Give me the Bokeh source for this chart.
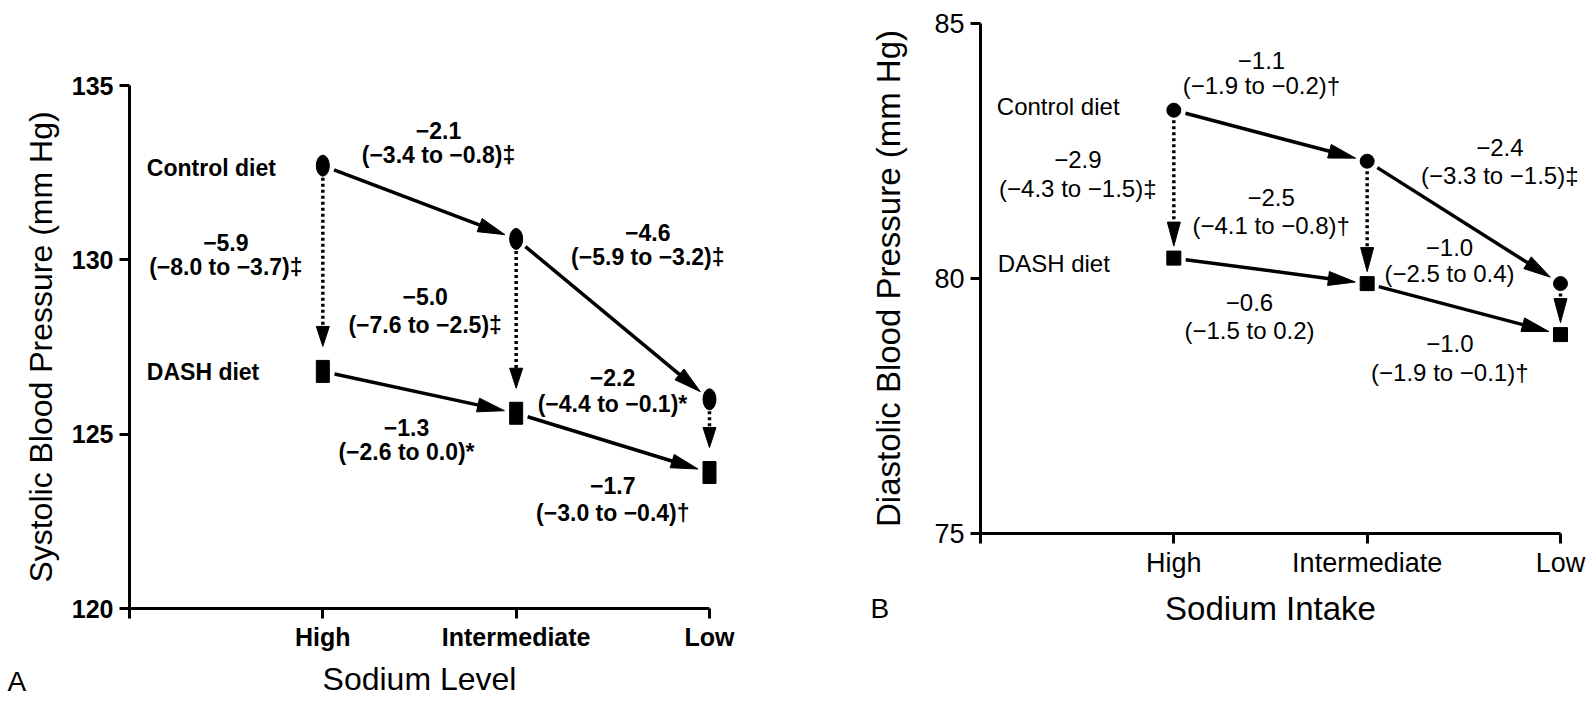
import math
from bokeh.plotting import figure
from bokeh.models import ColumnDataSource, LabelSet, Label, FixedTicker, Range1d
from bokeh.layouts import row
from bokeh.core.properties import value
from bokeh.embed import file_html
from bokeh.resources import INLINE

# ---------------- data ----------------
levels = ["High", "Intermediate", "Low"]
diets = ["Control diet", "DASH diet"]

sbp_control = [132.7, 130.6, 126.0]
sbp_dash = [126.8, 125.6, 123.9]
sbp_yticks = [120, 125, 130, 135]
sbp_ctrl_diff = ["−2.1", "−4.6"]
sbp_ctrl_ci = ["(−3.4 to −0.8)‡", "(−5.9 to −3.2)‡"]
sbp_dash_diff = ["−1.3", "−1.7"]
sbp_dash_ci = ["(−2.6 to 0.0)*", "(−3.0 to −0.4)†"]
sbp_diet_diff = ["−5.9", "−5.0", "−2.2"]
sbp_diet_ci = ["(−8.0 to −3.7)‡", "(−7.6 to −2.5)‡", "(−4.4 to −0.1)*"]

dbp_control = [83.3, 82.3, 79.9]
dbp_dash = [80.4, 79.9, 78.9]
dbp_yticks = [75, 80, 85]
dbp_ctrl_diff = ["−1.1", "−2.4"]
dbp_ctrl_ci = ["(−1.9 to −0.2)†", "(−3.3 to −1.5)‡"]
dbp_dash_diff = ["−0.6", "−1.0"]
dbp_dash_ci = ["(−1.5 to 0.2)", "(−1.9 to −0.1)†"]
dbp_diet_diff = ["−2.9", "−2.5", "−1.0"]
dbp_diet_ci = ["(−4.3 to −1.5)‡", "(−4.1 to −0.8)†", "(−2.5 to 0.4)"]

# ---------------- style / layout ----------------
FONT = "Liberation Sans"
XPX = 193.33  # pixels per category step
H = 702


def arrow_parts(x0, y0, x1, y1, sx, sy, g0, g1, hl, hw):
    X0, Y0, X1, Y1 = x0 * sx, y0 * sy, x1 * sx, y1 * sy
    L = math.hypot(X1 - X0, Y1 - Y0)
    ux, uy = (X1 - X0) / L, (Y1 - Y0) / L
    sX, sY = X0 + ux * g0, Y0 + uy * g0
    tX, tY = X1 - ux * g1, Y1 - uy * g1
    bX, bY = tX - ux * hl, tY - uy * hl
    eX, eY = bX + ux * 3, bY + uy * 3
    nx, ny = -uy, ux
    shaft = (sX / sx, sY / sy, eX / sx, eY / sy)
    hx = [tX / sx, (bX + nx * hw / 2) / sx, (bX - nx * hw / 2) / sx]
    hy = [tY / sy, (bY + ny * hw / 2) / sy, (bY - ny * hw / 2) / sy]
    return shaft, hx, hy


def panel(control, dash, yticks, ylim, W, geo, ylabel, xlabel, letter, letter_off,
          texts, offs, solid_geo, dot_geo, markers, fonts, stand, diet_offs):
    ox, ytop, ybot = geo
    sx = XPX
    sy = (ybot - ytop) / (ylim[1] - ylim[0])
    x0 = -1 - ox / sx
    x1 = x0 + W / sx
    y1 = ylim[1] + ytop / sy
    y0 = y1 - H / sy
    ann_size, tick_size, xlab_size, ylab_size, weight = fonts

    p = figure(width=W, height=H, x_range=Range1d(x0, x1), y_range=Range1d(y0, y1),
               output_backend="svg", toolbar_location=None, title=None,
               min_border_left=0, min_border_right=0, min_border_top=0, min_border_bottom=0)
    p.outline_line_color = None
    p.background_fill_color = "white"
    p.border_fill_color = "white"
    p.xgrid.visible = False
    p.ygrid.visible = False

    xs = list(range(len(levels)))

    # axes
    p.xaxis.ticker = FixedTicker(ticks=[-1] + xs)
    overrides = {-1: ""}
    for i, lv in enumerate(levels):
        overrides[i] = lv
    p.xaxis.major_label_overrides = overrides
    p.xaxis.bounds = (-1, xs[-1])
    p.xaxis.fixed_location = ylim[0]
    p.yaxis.ticker = FixedTicker(ticks=yticks)
    p.yaxis.bounds = (ylim[0], ylim[1])
    p.yaxis.fixed_location = -1
    p.xaxis.axis_label = xlabel
    p.yaxis.axis_label = ylabel
    for ax in (p.xaxis[0], p.yaxis[0]):
        ax.axis_line_width = 3
        ax.axis_line_color = "black"
        ax.major_tick_line_width = 3
        ax.major_tick_line_color = "black"
        ax.major_tick_out = 10
        ax.major_tick_in = 0
        ax.minor_tick_line_color = None
        ax.major_label_text_font = FONT
        ax.major_label_text_font_size = tick_size
        ax.major_label_text_font_style = weight
        ax.major_label_text_color = "black"
        ax.axis_label_text_font = FONT
        ax.axis_label_text_font_style = "normal"
        ax.axis_label_text_color = "black"
    p.xaxis.axis_label_text_font_size = xlab_size
    p.yaxis.axis_label_text_font_size = ylab_size
    p.xaxis.major_label_standoff = stand[0]
    p.xaxis.axis_label_standoff = stand[1]
    p.yaxis.major_label_standoff = stand[2]
    p.yaxis.axis_label_standoff = stand[3]

    # arrows
    solid_shafts = {"x0": [], "y0": [], "x1": [], "y1": []}
    dot_shafts = {"x0": [], "y0": [], "x1": [], "y1": []}
    heads_x, heads_y = [], []
    ann = {"x": [], "y": [], "t": [], "xo": [], "yo": []}

    def add_ann(xm, ym, diff, ci, off):
        dx, dyv, dyc = off
        for t, dy in ((diff, dyv), (ci, dyc)):
            ann["x"].append(xm)
            ann["y"].append(ym)
            ann["t"].append(t)
            ann["xo"].append(dx)
            ann["yo"].append(-dy)

    for series, diffs, cis, off in ((control, texts[0], texts[1], offs[0]),
                                    (dash, texts[2], texts[3], offs[1])):
        for i in range(len(xs) - 1):
            sh, hx, hy = arrow_parts(xs[i], series[i], xs[i + 1], series[i + 1], sx, sy, *solid_geo)
            for k, v in zip(("x0", "y0", "x1", "y1"), sh):
                solid_shafts[k].append(v)
            heads_x.append(hx)
            heads_y.append(hy)
            add_ann((xs[i] + xs[i + 1]) / 2, (series[i] + series[i + 1]) / 2,
                    diffs[i], cis[i], off[i])
    for i in range(len(xs)):
        sh, hx, hy = arrow_parts(xs[i], control[i], xs[i], dash[i], sx, sy, *dot_geo)
        for k, v in zip(("x0", "y0", "x1", "y1"), sh):
            dot_shafts[k].append(v)
        heads_x.append(hx)
        heads_y.append(hy)
        add_ann(xs[i], (control[i] + dash[i]) / 2, texts[4][i], texts[5][i], offs[2][i])

    p.segment("x0", "y0", "x1", "y1", source=ColumnDataSource(solid_shafts),
              line_color="black", line_width=3.5)
    p.segment("x0", "y0", "x1", "y1", source=ColumnDataSource(dot_shafts),
              line_color="black", line_width=3.5, line_dash="3 3")
    p.patches(heads_x, heads_y, fill_color="black", line_color="black", line_width=1)

    # markers
    if markers == "tall":
        p.ellipse(xs, control, width=13, height=21, width_units="screen",
                  height_units="screen", fill_color="black", line_color="black")
        p.rect(xs, dash, width=13, height=22, width_units="screen",
               height_units="screen", fill_color="black", line_color="black")
    else:
        p.scatter(xs, control, marker="circle", size=14, fill_color="black", line_color="black")
        p.scatter(xs, dash, marker="square", size=14, fill_color="black", line_color="black")

    # annotations
    src = ColumnDataSource(ann)
    p.add_layout(LabelSet(x="x", y="y", text="t", source=src, x_offset="xo", y_offset="yo",
                          text_align="center", text_baseline="middle",
                          text_font=value(FONT), text_font_size=value(ann_size),
                          text_font_style=value(weight), text_color="black"))
    dsrc = ColumnDataSource({"x": [xs[0], xs[0]], "y": [control[0], dash[0]], "t": diets,
                             "xo": [d[0] for d in diet_offs], "yo": [-d[1] for d in diet_offs]})
    p.add_layout(LabelSet(x="x", y="y", text="t", source=dsrc, x_offset="xo", y_offset="yo",
                          text_align="left", text_baseline="middle",
                          text_font=value(FONT), text_font_size=value(ann_size),
                          text_font_style=value(weight), text_color="black"))
    p.add_layout(Label(x=-1, y=ylim[0], x_offset=letter_off[0], y_offset=-letter_off[1],
                       text=letter, text_align="left", text_baseline="middle",
                       text_font=FONT, text_font_size="28px", text_color="black"))
    return p


WA = 850
WB = 738

pA = panel(sbp_control, sbp_dash, sbp_yticks, (120, 135), WA, (129, 85, 608),
           "Systolic Blood Pressure (mm Hg)", "Sodium Level", "A", (-122, 73),
           (sbp_ctrl_diff, sbp_ctrl_ci, sbp_dash_diff, sbp_dash_ci, sbp_diet_diff, sbp_diet_ci),
           ([(19, -72, -47), (35, -87, -62)],
            [(-13, 35, 60), (0, 43, 70)],
            [(-97, -26, -2), (-91, -30, -1), (-97, -58, -32)]),
           (12, 12, 27, 14), (12, 25, 20, 13), "tall",
           ("23px", "25px", "32px", "32px", "bold"), (4, 7, 6, 10), [(-176, 2), (-176, 1)])

pB = panel(dbp_control, dbp_dash, dbp_yticks, (75, 85), WB, (980 - WA, 23, 533),
           "Diastolic Blood Pressure (mm Hg)", "Sodium Intake", "B", (-110, 75),
           (dbp_ctrl_diff, dbp_ctrl_ci, dbp_dash_diff, dbp_dash_ci, dbp_diet_diff, dbp_diet_ci),
           ([(-9, -75, -50), (36, -75, -47)],
            [(-21, 32, 60), (-14, 34, 63)],
            [(-96, -25, 4), (-96, -25, 3), (-111, -62, -36)]),
           (12, 12, 27, 14), (10, 12, 24, 13), "round",
           ("24px", "27px", "33px", "33px", "normal"), (4, 9, 6, 24), [(-177, -4), (-176, 5)])

layout = row(pA, pB)
open("out.html", "w").write(file_html(layout, INLINE))
